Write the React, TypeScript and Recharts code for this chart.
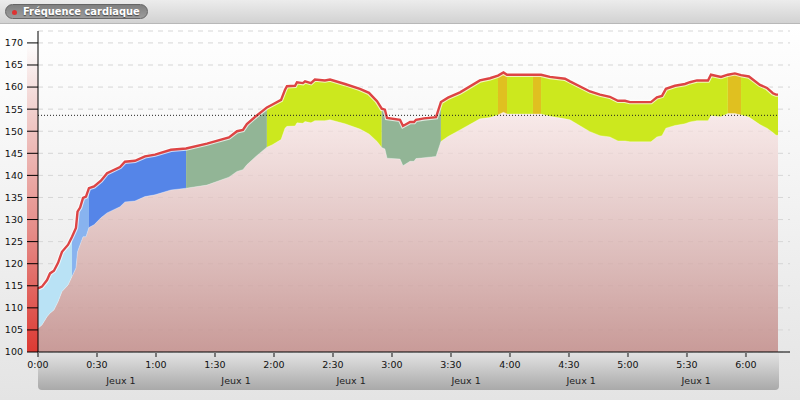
import { ComposedChart, Area, Line, XAxis, YAxis, CartesianGrid, ReferenceLine } from 'recharts';

// minutes since start
const minutes = [
  0, 2, 4.6, 6.1, 8.1, 10.2, 12.2, 15.3, 17.3, 19.3, 20.1, 21.4, 22.9, 24.4, 25.9, 28.5, 32, 35.1, 41.7, 44.2,
  49.3, 54.4, 59.5, 67.6, 75.3, 85.9, 97.1, 101.2, 104.2, 106.2, 110.8, 116.4, 119, 123.6, 125.6, 126.6, 130.7, 131.7, 134.7, 135.8,
  138.8, 140.8, 145.9, 148.5, 156.1, 163.7, 168.3, 172.4, 174.8, 176.4, 177.5, 184.1, 185.6, 189.2, 191.2, 192.2, 196.3, 202.4, 204.9, 208.5,
  214.6, 224.7, 229.8, 233.9, 236.7, 238.5, 251.7, 255.8, 260.3, 268, 270.5, 280.7, 285.8, 290.8, 294.9, 298.5, 301, 311.7, 314.7, 317.3,
  319.3, 323.9, 329, 331.5, 335.1, 340.7, 342.2, 347.3, 350.8, 354.4, 357.5, 361.5, 367.1, 370.7, 373.7, 375.3, 376.3,
];

const heartRate = [
  114.4, 114.8, 116.3, 117.8, 118.4, 120.2, 122.7, 124.3, 126.1, 128.1, 131.8, 132.7, 134.9, 135.2, 137.1, 137.5, 138.8, 140.5, 141.9, 143.1,
  143.3, 144.3, 144.7, 145.8, 146.1, 147.2, 148.6, 150, 150.3, 151.6, 153.4, 155.4, 156, 157.1, 159.4, 160.2, 160.3, 161.1, 160.9, 161.3,
  160.9, 161.7, 161.5, 161.7, 160.7, 159.6, 158.7, 156.8, 155.1, 154.9, 153, 152.6, 151.2, 152.1, 152.1, 152.6, 152.9, 153.2, 156.6, 157.6,
  158.8, 161.5, 162, 162.6, 163.3, 162.8, 162.8, 162.8, 162.3, 161.9, 161.3, 159, 158.3, 157.8, 156.9, 156.9, 156.6, 156.6, 157.7, 158,
  159.6, 160.3, 160.7, 161.1, 161.5, 161.5, 162.8, 162.3, 162.8, 163.1, 162.7, 162.4, 160.5, 159.8, 158.6, 158.3, 158.3,
];

const lowerBound = [
  105.4, 106.1, 108, 108.8, 109.5, 111.4, 113.7, 115.2, 117.1, 119, 122.7, 124.3, 126.1, 126.1, 128.2, 128.8, 130.4, 131.5, 132.9, 134,
  134.2, 135.2, 135.6, 136.7, 137.1, 137.8, 139.6, 140.9, 141.3, 142.4, 144.3, 146.4, 146.9, 148.1, 150.7, 151.1, 151.2, 151.9, 151.8, 152.2,
  151.9, 152.4, 152.4, 152.6, 151.7, 150.5, 149.4, 147.7, 146.3, 146, 143.9, 143.7, 142.2, 143.2, 143.2, 143.8, 144, 144.3, 147.7, 148.8,
  150.3, 152.8, 153.1, 153.7, 154.3, 153.9, 153.9, 153.9, 153.4, 152.8, 152.6, 149.9, 149, 148.7, 147.8, 147.8, 147.6, 147.6, 148.7, 149,
  150.7, 151.3, 151.7, 152.1, 152.4, 152.4, 153.5, 153.3, 154, 154, 153.7, 153.2, 151.5, 150.7, 149.7, 149.1, 149.1,
];

const zoneStart = [0, 17.3, 25.9, 75.3, 116.4, 174.8, 204.9, 233.9, 238.5, 251.7, 255.8, 350.8, 357.5];
const zoneEnd = [17.3, 25.9, 75.3, 116.4, 174.8, 204.9, 233.9, 238.5, 251.7, 255.8, 350.8, 357.5, 376.3];
const zoneColors = [
  '#b9e2f5', '#88b3ef', '#5585e8', '#92b596', '#cce81e', '#92b596', '#cce81e',
  '#e0c020', '#cce81e', '#e0c020', '#cce81e', '#e0c020', '#cce81e',
];

const hrTicks = [100, 105, 110, 115, 120, 125, 130, 135, 140, 145, 150, 155, 160, 165, 170];
const timeTicks = [0, 30, 60, 90, 120, 150, 180, 210, 240, 270, 300, 330, 360];
const gameTicks = [42.2, 100.7, 159.2, 217.7, 276.2, 334.7];
const threshold = 153.6;

const rows = minutes.map((t, i) => {
  const row: Record<string, unknown> = { t, hr: heartRate[i], low: lowerBound[i] };
  zoneStart.forEach((start, z) => {
    row['z' + z] = t >= start && t <= zoneEnd[z] ? [lowerBound[i], heartRate[i]] : null;
  });
  return row;
});

const formatTime = (m: number) => `${Math.floor(m / 60)}:${String(m % 60).padStart(2, '0')}`;
const font = '"DejaVu Sans", sans-serif';

export default function App() {
  return (
    <div style={{ position: 'absolute', left: 0, top: 0, width: 800, height: 400, overflow: 'hidden', background: 'linear-gradient(#ffffff 24px, #e4e4e4 400px)' }}>
      {/* header bar */}
      <div style={{ position: 'absolute', left: 0, top: 0, width: 800, height: 23, background: 'linear-gradient(#ececec, #d2d2d2)', borderBottom: '1px solid #b8b8b8' }} />
      <div style={{ position: 'absolute', left: 5, top: 4, width: 141, height: 13, borderRadius: 8, background: 'linear-gradient(#808080, #9c9c9c)', border: '1px solid #666' }} />
      <div style={{ position: 'absolute', left: 12, top: 10, width: 5, height: 5, borderRadius: 3, background: '#dd3333' }} />
      <div style={{ position: 'absolute', left: 23, top: 5, fontFamily: font, fontSize: 9.9, fontWeight: 'bold', color: '#fff', whiteSpace: 'nowrap', textShadow: '0 1px 1px #444', lineHeight: '14px' }}>
        Fréquence cardiaque
      </div>
      {/* strip under the time axis */}
      <div style={{ position: 'absolute', left: 38, top: 353, width: 741, height: 37, borderRadius: '0 0 4px 4px', background: 'linear-gradient(#e2e2e2, #a9a9a9)' }} />
      {/* colour scale next to the y axis */}
      <div style={{ position: 'absolute', left: 27, top: 43, width: 11, height: 309, background: 'linear-gradient(rgba(230,180,180,0), #eec0bd 30%, #e58a86 62%, #dc3a33)' }} />
      <div style={{ position: 'absolute', left: 0, top: 0 }}>
        <ComposedChart width={800} height={400} data={rows} margin={{ top: 31, right: 10, bottom: 8, left: 0 }}>
          <defs>
            <linearGradient id="pink" x1="0" y1="0" x2="0" y2="1">
              <stop offset="0" stopColor="#f8e4e3" stopOpacity={0.7} />
              <stop offset="1" stopColor="#c28a87" stopOpacity={0.82} />
            </linearGradient>
          </defs>
          <CartesianGrid horizontal vertical={false} stroke="#d6d6d6" strokeDasharray="5 5" />
          <XAxis
            dataKey="t"
            type="number"
            domain={[0, 382.4]}
            ticks={timeTicks}
            tickFormatter={formatTime}
            interval={0}
            height={20}
            tickSize={5}
            tickMargin={4}
            axisLine={{ stroke: '#000' }}
            tickLine={{ stroke: '#777', strokeWidth: 2 }}
            tick={{ fill: '#111', fontSize: 9.5, fontFamily: font }}
          />
          <XAxis
            xAxisId="game"
            dataKey="t"
            type="number"
            domain={[0, 382.4]}
            ticks={gameTicks}
            tickFormatter={() => 'Jeux 1'}
            interval={0}
            height={20}
            axisLine={false}
            tickLine={false}
            tickSize={0}
            tickMargin={5}
            tick={{ fill: '#222', fontSize: 9.5, fontFamily: font }}
          />
          <YAxis
            type="number"
            width={38}
            domain={[100, 172.7]}
            ticks={hrTicks}
            interval={0}
            tickSize={11}
            tickMargin={4}
            axisLine={{ stroke: '#000' }}
            tickLine={{ stroke: '#000' }}
            tick={{ fill: '#111', fontSize: 9.5, fontFamily: font }}
          />
          <Area dataKey="low" type="linear" stroke="none" fill="url(#pink)" fillOpacity={1} isAnimationActive={false} />
          {zoneColors.map((color, z) => (
            <Area
              key={z}
              dataKey={'z' + z}
              type="linear"
              stroke="#ffffff"
              strokeOpacity={0.3}
              fill={color}
              fillOpacity={1}
              isAnimationActive={false}
            />
          ))}
          <Line dataKey="hr" type="linear" stroke="#ffffff" strokeOpacity={0.7} strokeWidth={4.5} dot={false} activeDot={false} isAnimationActive={false} />
          <Line dataKey="hr" type="linear" stroke="#dd4444" strokeWidth={2.4} dot={false} activeDot={false} isAnimationActive={false} />
          <ReferenceLine
            segment={[{ x: 0, y: threshold }, { x: 376.3, y: threshold }]}
            stroke="#222"
            strokeDasharray="1 2"
          />
        </ComposedChart>
      </div>
    </div>
  );
}
